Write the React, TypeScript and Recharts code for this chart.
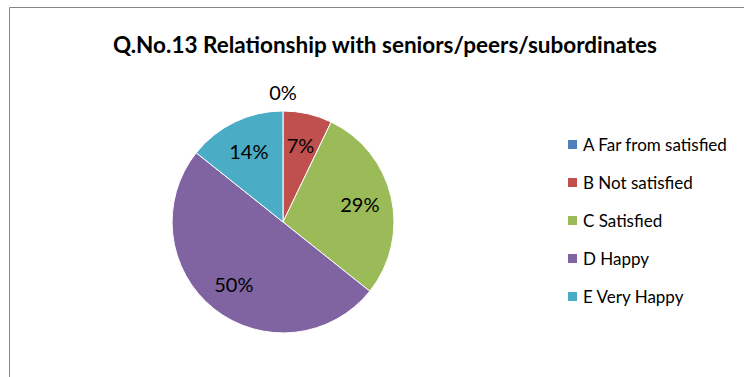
import React from "react";
import { PieChart, Pie, Cell, Legend } from "recharts";

const categories = ["A Far from satisfied", "B Not satisfied", "C Satisfied", "D Happy", "E Very Happy"];
const counts = [0, 1, 4, 7, 2];
const colors = ["#4F81BD", "#C0504D", "#9BBB59", "#8064A2", "#4BACC6"];
const title = "Q.No.13 Relationship with seniors/peers/subordinates";

const data = categories.map((name, i) => ({ name, value: counts[i] }));
const total = counts.reduce((a, b) => a + b, 0);

const FONT = "Lato, 'Open Sans', sans-serif";
const RAD = Math.PI / 180;

const renderLabel = (props: any) => {
  const { cx, cy, midAngle, outerRadius, value } = props;
  const r = value === 0 ? outerRadius + 19 : outerRadius * 0.71;
  const x = cx + r * Math.cos(-midAngle * RAD);
  const y = cy + r * Math.sin(-midAngle * RAD);
  const pct = Math.round((value / total) * 100) + "%";
  return (
    <text x={x} y={y} fill="#000" fontSize={20} fontFamily={FONT} textAnchor="middle" dominantBaseline="central">
      {pct}
    </text>
  );
};

const renderLegend = (props: any) => {
  const { payload } = props;
  return (
    <div style={{ fontFamily: FONT, fontSize: 17, color: "#000" }}>
      {payload.map((p: any, i: number) => (
        <div key={i} style={{ height: 38, display: "flex", alignItems: "center" }}>
          <span style={{ display: "inline-block", width: 9, height: 9, background: p.color, marginRight: 6 }} />
          <span>{p.value}</span>
        </div>
      ))}
    </div>
  );
};

export default function App() {
  return (
    <div style={{ position: "absolute", left: 0, top: 0, width: 744, height: 377, overflow: "hidden", background: "#fff" }}>
      <svg width={744} height={377} style={{ position: "absolute", left: 0, top: 0 }}>
        <line x1={9.5} y1={7.5} x2={744} y2={7.5} stroke="#868686" strokeWidth={1} />
        <line x1={9.5} y1={7.5} x2={9.5} y2={377} stroke="#868686" strokeWidth={1} />
      </svg>
      <div
        style={{
          position: "absolute",
          left: 10,
          top: 8,
          width: 740,
          height: 372,
        }}
      >
        <div
          style={{
            position: "absolute",
            left: 0,
            width: 750,
            top: 23,
            textAlign: "center",
            fontFamily: FONT,
            fontWeight: 700,
            fontSize: 22.5,
            color: "#000",
            whiteSpace: "nowrap",
          }}
        >
          {title}
        </div>
        <PieChart width={740} height={372} margin={{ top: 0, right: 0, bottom: 0, left: 0 }}>
          <Pie
            data={data}
            dataKey="value"
            nameKey="name"
            cx={273}
            cy={214}
            outerRadius={111}
            startAngle={90}
            endAngle={-270}
            stroke="#fff"
            strokeWidth={1}
            label={renderLabel}
            labelLine={false}
            isAnimationActive={false}
          >
            {data.map((d, i) => (
              <Cell key={i} fill={colors[i]} />
            ))}
          </Pie>
          <Legend
            layout="vertical"
            content={renderLegend}
            wrapperStyle={{ left: 558, top: 117, width: 190 }}
          />
        </PieChart>
      </div>
    </div>
  );
}
